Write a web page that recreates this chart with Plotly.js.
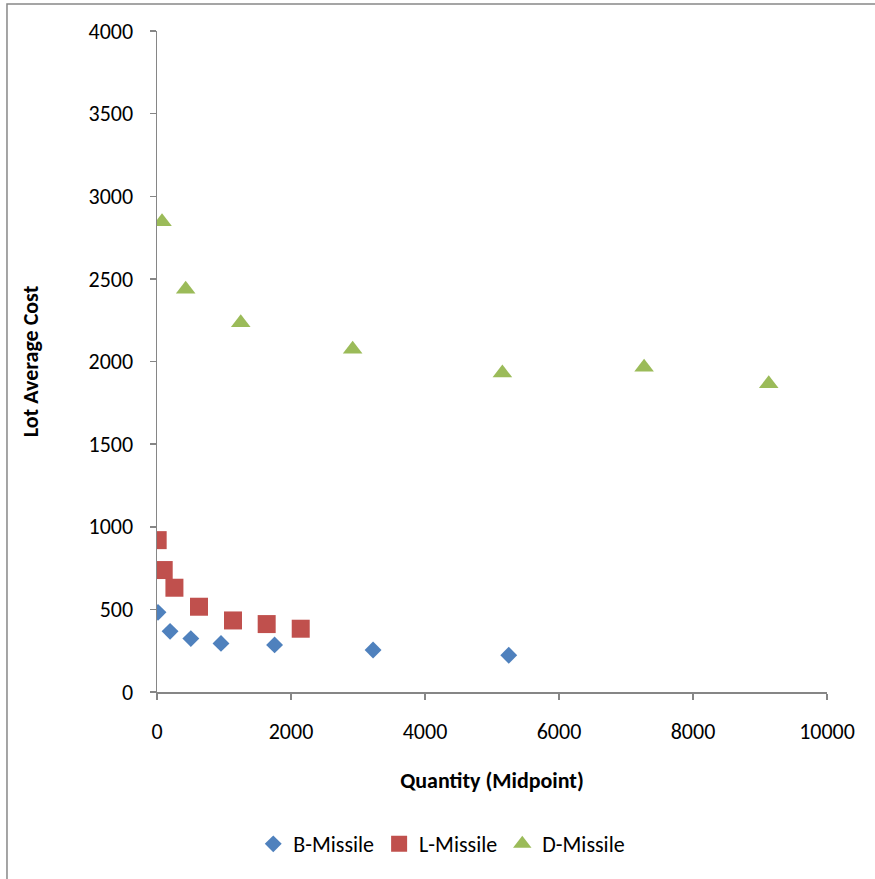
<!DOCTYPE html>
<html>
<head>
<meta charset="utf-8">
<script src="https://cdn.plot.ly/plotly-3.0.1.min.js"></script>
<style>html,body{margin:0;padding:0;background:#fff;}#chart{width:875px;height:879px;}</style>
</head>
<body>
<div id="chart"></div>
<script>
const seriesNames = ["B-Missile", "L-Missile", "D-Missile"];
const bX = [15, 195, 505, 955, 1755, 3225, 5250];
const bY = [482, 367, 323, 294, 285, 254, 222];
const lX = [10, 100, 260, 627, 1134, 1637, 2145];
const lY = [919, 738, 631, 516, 433, 411, 383];
const dX = [75, 428, 1250, 2920, 5155, 7270, 9130];
const dY = [2846, 2437, 2235, 2074, 1930, 1965, 1865];
const xTicks = [0, 2000, 4000, 6000, 8000, 10000];
const yTicks = [0, 500, 1000, 1500, 2000, 2500, 3000, 3500, 4000];

const FONT = "Carlito, Calibri, Lato, 'Liberation Sans', sans-serif";
const traces = [
  {x: bX, y: bY, name: seriesNames[0], mode: "markers", type: "scatter",
   marker: {symbol: "diamond", size: 13, color: "#4F81BD"}},
  {x: lX, y: lY, name: seriesNames[1], mode: "markers", type: "scatter",
   marker: {symbol: "square", size: 18, color: "#C0504D"}},
  {x: dX, y: dY, name: seriesNames[2], mode: "markers", type: "scatter",
   marker: {symbol: "triangle-up", size: 17, color: "#9BBB59"}}
];

const axisCommon = {
  showgrid: false, zeroline: false, showline: true,
  linecolor: "#868686", linewidth: 1.5,
  ticks: "outside", ticklen: 6, tickcolor: "#868686", tickwidth: 1.5,
  tickfont: {family: FONT, size: 22, color: "#000"}
};

const layout = {
  width: 875, height: 879,
  margin: {l: 157, r: 48, t: 31, b: 187},
  paper_bgcolor: "#fff", plot_bgcolor: "#fff",
  font: {family: FONT, color: "#000"},
  showlegend: true,
  legend: {orientation: "h", x: 0.425, xanchor: "center", y: -0.23, yanchor: "middle",
           font: {family: FONT, size: 22, color: "#000"}, itemwidth: 30, tracegroupgap: 0},
  xaxis: Object.assign({}, axisCommon, {
    range: [0, 10000], tickvals: xTicks, ticktext: xTicks.map(String),
    ticklabelstandoff: 13,
    title: {text: "<b>Quantity (Midpoint)</b>", font: {family: FONT, size: 22, color: "#000"}, standoff: 28}
  }),
  yaxis: Object.assign({}, axisCommon, {
    range: [0, 4000], tickvals: yTicks, ticktext: yTicks.map(String),
    ticklabelstandoff: 12,
    title: {text: "<b>Lot Average Cost</b>", font: {family: FONT, size: 22, color: "#000"}, standoff: 44}
  }),
  shapes: [{
    type: "rect", xref: "paper", yref: "paper",
    x0: -0.2239, x1: 1.08, y0: -0.29, y1: 1.0408,
    line: {color: "#888888", width: 1.5}, fillcolor: "rgba(0,0,0,0)", layer: "below"
  }]
};

Plotly.newPlot("chart", traces, layout, {displayModeBar: false, staticPlot: true});
</script>
</body>
</html>
